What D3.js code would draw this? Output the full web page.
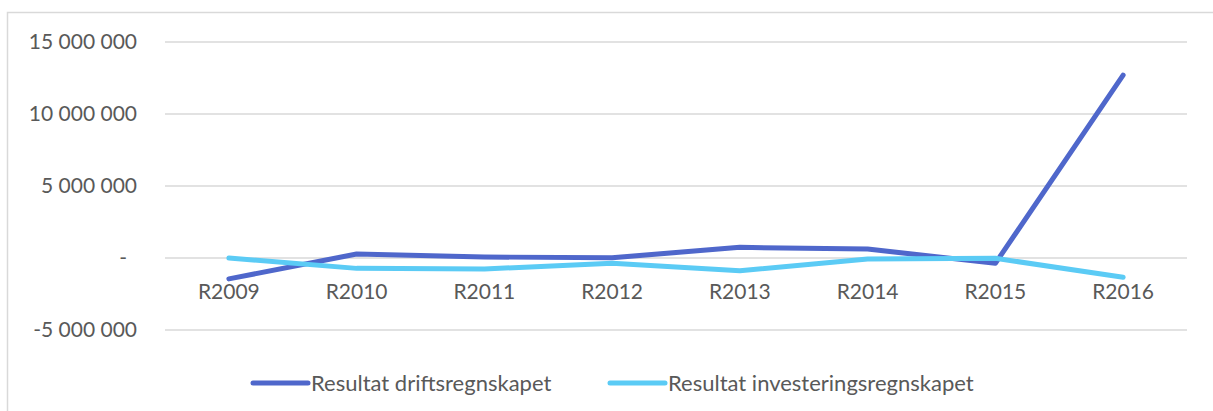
<!DOCTYPE html>
<html>
<head>
<meta charset="utf-8">
<script src="https://cdn.jsdelivr.net/npm/d3@7"></script>
<style>
  body { margin: 0; background: #fff; }
  text { font-family: Lato, "Open Sans", sans-serif; fill: #595959; }
</style>
</head>
<body>
<svg width="1213" height="411"></svg>
<script>
// data
const years = ["R2009", "R2010", "R2011", "R2012", "R2013", "R2014", "R2015", "R2016"];
const drift = [-1450000, 280000, 70000, 20000, 740000, 620000, -370000, 12700000];
const invest = [0, -720000, -760000, -370000, -880000, -70000, -20000, -1340000];
const yTicks = [-5000000, 0, 5000000, 10000000, 15000000];
const seriesNames = ["Resultat driftsregnskapet", "Resultat investeringsregnskapet"];
const colors = ["#4F67CB", "#5BCBF5"];

const svg = d3.select("svg");
const W = 1213, H = 411;

// ramme
svg.append("rect")
  .attr("x", 7.5).attr("y", 12.5)
  .attr("width", W + 20).attr("height", H + 20)
  .attr("fill", "none").attr("stroke", "#d9d9d9").attr("stroke-width", 1.5);

const x = d3.scaleBand().domain(years).range([165, 1187]);
const y = d3.scaleLinear().domain([-5000000, 15000000]).range([330, 42]);

// rutenett
svg.append("g")
  .selectAll("line")
  .data(yTicks)
  .enter()
  .append("line")
  .attr("x1", 165).attr("x2", 1187)
  .attr("y1", d => y(d)).attr("y2", d => y(d))
  .attr("stroke", "#d9d9d9").attr("stroke-width", 1.5);

// y-etiketter
const fmt = d => d === 0 ? "-" : d3.format(",")(d).replace(/,/g, " ").replace("\u2212", "-");
svg.append("g")
  .selectAll("text")
  .data(yTicks)
  .enter()
  .append("text")
  .attr("x", d => d === 0 ? 127 : 137)
  .attr("y", d => y(d))
  .attr("dy", "0.35em")
  .attr("text-anchor", "end")
  .style("font-size", "21px")
  .text(fmt);

// x-etiketter
svg.append("g")
  .selectAll("text")
  .data(years)
  .enter()
  .append("text")
  .attr("x", d => x(d) + x.bandwidth() / 2)
  .attr("y", 292)
  .attr("dy", "0.35em")
  .attr("text-anchor", "middle")
  .style("font-size", "21px")
  .text(d => d);

// linjer
const line = d3.line()
  .x((d, i) => x(years[i]) + x.bandwidth() / 2)
  .y(d => y(d));

[drift, invest].forEach((vals, k) => {
  svg.append("path")
    .datum(vals)
    .attr("d", line)
    .attr("fill", "none")
    .attr("stroke", colors[k])
    .attr("stroke-width", 5)
    .attr("stroke-linecap", "round")
    .attr("stroke-linejoin", "round");
});

// tegnforklaring
const legX = [253, 610];
const leg = svg.append("g")
  .selectAll("g")
  .data(seriesNames)
  .enter()
  .append("g")
  .attr("transform", (d, i) => `translate(${legX[i]}, 383)`);
leg.append("line")
  .attr("x1", 0).attr("x2", 55)
  .attr("stroke", (d, i) => colors[i])
  .attr("stroke-width", 5)
  .attr("stroke-linecap", "round");
leg.append("text")
  .attr("x", 58)
  .attr("dy", "0.35em")
  .style("font-size", "22px")
  .text(d => d);
</script>
</body>
</html>
